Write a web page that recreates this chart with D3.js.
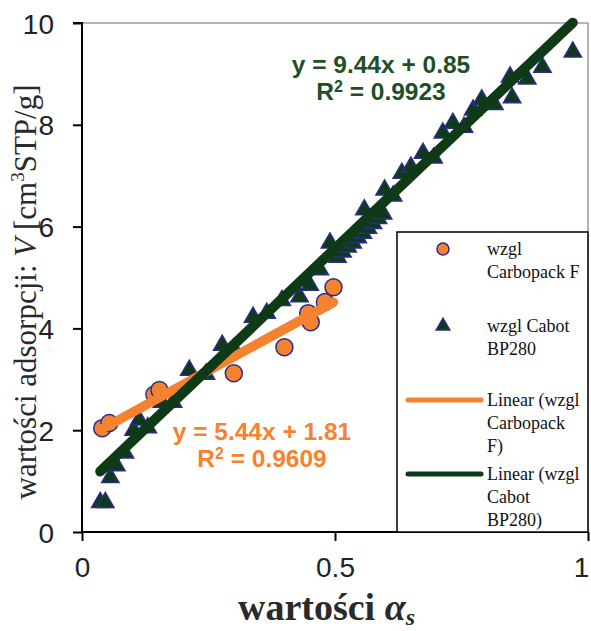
<!DOCTYPE html>
<html>
<head>
<meta charset="utf-8">
<script src="https://cdn.jsdelivr.net/npm/d3@7/dist/d3.min.js"></script>
<style>
  html, body { margin: 0; padding: 0; background: #fff; }
  svg { display: block; }
</style>
</head>
<body>
<svg id="chart" width="591" height="631"></svg>
<script>
// ---- data ----
const xTicks = [0, 0.5, 1];
const xTickLabels = ["0", "0.5", "1"];
const yTicks = [0, 2, 4, 6, 8, 10];
const yTickLabels = ["0", "2", "4", "6", "8", "10"];

// Carbopack F (orange circles)
const cfX = [0.040, 0.054, 0.143, 0.153, 0.300, 0.400, 0.447, 0.452, 0.480, 0.497];
const cfY = [2.04, 2.14, 2.70, 2.79, 3.12, 3.63, 4.30, 4.12, 4.52, 4.81];

// Cabot BP280 (triangles)
const bpX = [0.036, 0.046, 0.056, 0.068, 0.085, 0.102, 0.113, 0.130, 0.158, 0.180,
             0.212, 0.245, 0.277, 0.300, 0.338, 0.365, 0.395, 0.430, 0.450, 0.470,
             0.490, 0.505, 0.515, 0.525, 0.535, 0.545, 0.555, 0.558, 0.565, 0.575,
             0.585, 0.595, 0.598, 0.615, 0.632, 0.650, 0.674, 0.695, 0.713, 0.733,
             0.755, 0.773, 0.790, 0.815, 0.846, 0.850, 0.880, 0.910, 0.970];
const bpY = [0.58, 0.58, 1.07, 1.30, 1.55, 2.00, 2.20, 2.05, 2.55, 2.55,
             3.18, 3.10, 3.67, 3.60, 4.22, 4.30, 4.55, 4.62, 4.85, 5.15,
             5.68, 5.40, 5.50, 5.60, 5.68, 5.78, 5.87, 6.33, 5.97, 6.06,
             6.16, 6.25, 6.72, 6.60, 7.05, 7.17, 7.44, 7.35, 7.84, 8.03,
             7.95, 8.29, 8.49, 8.40, 8.94, 8.53, 8.90, 9.13, 9.43];

// trendline coefficients (from labels)
const cfSlope = 5.44, cfIntercept = 1.81, cfR2 = "0.9609";
const bpSlope = 9.44, bpIntercept = 0.85, bpR2 = "0.9923";

const legendLabels = [
  ["wzgl", "Carbopack  F"],
  ["wzgl Cabot", "BP280"],
  ["Linear (wzgl", "Carbopack", "F)"],
  ["Linear (wzgl", "Cabot", "BP280)"]
];

// ---- styles ----
const ORANGE = "#f5822f";
const GREEN = "#0e3b16";
const GREEN_TXT = "#1d5027";
const NAVY = "#2b2b8c";
const SERIF = "'Liberation Serif', 'Times New Roman', serif";
const SANS = "'Liberation Sans', Arial, sans-serif";

const svg = d3.select("#chart");
const L = 82, R = 588, T = 23, B = 532;
const x = d3.scaleLinear().domain([0, 1]).range([L, R]);
const y = d3.scaleLinear().domain([0, 10]).range([B, T]);

// plot frame (top/right grey)
svg.append("line").attr("x1", L).attr("x2", R).attr("y1", T).attr("y2", T)
  .attr("stroke", "#9a9a9a").attr("stroke-width", 1.5);
svg.append("line").attr("x1", R).attr("x2", R).attr("y1", T).attr("y2", B)
  .attr("stroke", "#9a9a9a").attr("stroke-width", 1.5);

// axes
const yAxis = d3.axisLeft(y).tickValues(yTicks).tickSize(9)
  .tickFormat((d, i) => yTickLabels[i]);
const gy = svg.append("g").attr("transform", `translate(${L},0)`).call(yAxis);
gy.select(".domain").attr("stroke", "#000").attr("stroke-width", 2).attr("d", `M-9,${T}H0V${B}`);
gy.selectAll(".tick line").attr("stroke", "#000").attr("stroke-width", 2);
gy.selectAll(".tick text").attr("font-family", SANS).attr("font-size", 28)
  .attr("fill", "#222").attr("x", -28).attr("dy", "0.36em");

const xAxis = d3.axisBottom(x).tickValues(xTicks).tickSize(9)
  .tickFormat((d, i) => xTickLabels[i]);
const gx = svg.append("g").attr("transform", `translate(0,${B})`).call(xAxis);
gx.select(".domain").attr("stroke", "#000").attr("stroke-width", 2).attr("d", `M${L},0H${R}`);
gx.selectAll(".tick line").attr("stroke", "#000").attr("stroke-width", 2);
gx.selectAll(".tick text").attr("font-family", SANS).attr("font-size", 28)
  .attr("fill", "#222").attr("y", 25).attr("dy", "0.71em")
  .attr("x", d => d === 1 ? -7 : 0);

// markers
const cfData = cfX.map((v, i) => ({ x: v, y: cfY[i] }));
const bpData = bpX.map((v, i) => ({ x: v, y: bpY[i] }));

svg.append("g").selectAll("circle").data(cfData).join("circle")
  .attr("cx", d => x(d.x)).attr("cy", d => y(d.y)).attr("r", 8.5)
  .attr("fill", ORANGE).attr("stroke", NAVY).attr("stroke-width", 1.5);

const tri = d3.symbol().type(d3.symbolTriangle).size(130);
svg.append("g").selectAll("path").data(bpData).join("path")
  .attr("d", tri)
  .attr("transform", d => `translate(${x(d.x)},${y(d.y)})`)
  .attr("fill", GREEN).attr("stroke", NAVY).attr("stroke-width", 1.5);

// trendlines
const cfExt = d3.extent(cfX);
const bpExt = d3.extent(bpX);
svg.append("line")
  .attr("x1", x(cfExt[0])).attr("y1", y(cfSlope * cfExt[0] + cfIntercept))
  .attr("x2", x(cfExt[1])).attr("y2", y(cfSlope * cfExt[1] + cfIntercept))
  .attr("stroke", ORANGE).attr("stroke-width", 9.5).attr("stroke-linecap", "round");
svg.append("line")
  .attr("x1", x(bpExt[0])).attr("y1", y(bpSlope * bpExt[0] + bpIntercept))
  .attr("x2", x(bpExt[1])).attr("y2", y(bpSlope * bpExt[1] + bpIntercept))
  .attr("stroke", GREEN).attr("stroke-width", 10).attr("stroke-linecap", "round");

// equation labels
function eqLabel(cx, by, color, slope, inter, r2) {
  const g = svg.append("g").attr("font-family", SANS).attr("font-weight", "bold")
    .attr("font-size", 24.5).attr("fill", color).attr("text-anchor", "middle");
  g.append("text").attr("x", cx).attr("y", by)
    .text(`y = ${slope.toFixed(2)}x + ${inter.toFixed(2)}`);
  const t2 = g.append("text").attr("x", cx).attr("y", by + 27);
  t2.append("tspan").text("R");
  t2.append("tspan").attr("font-size", 16).attr("dy", -8).text("2");
  t2.append("tspan").attr("dy", 8).text(` = ${r2}`);
}
eqLabel(381, 73, GREEN_TXT, bpSlope, bpIntercept, bpR2);
eqLabel(262, 440, ORANGE, cfSlope, cfIntercept, cfR2);

// legend
const lg = svg.append("g");
lg.append("rect").attr("x", 397).attr("y", 232).attr("width", 191).attr("height", B - 232)
  .attr("fill", "#fff").attr("stroke", "#000").attr("stroke-width", 1.5);
const entryY = [249, 326, 400, 474];
const lineH = 23;
legendLabels.forEach((lines, i) => {
  const t = lg.append("text").attr("font-family", SERIF).attr("font-size", 18).attr("fill", "#111");
  lines.forEach((s, j) => {
    t.append("tspan").attr("x", 487).attr("y", entryY[i] + 6 + j * lineH).text(s);
  });
});
lg.append("circle").attr("cx", 443).attr("cy", entryY[0]).attr("r", 6)
  .attr("fill", ORANGE).attr("stroke", NAVY).attr("stroke-width", 1.5);
lg.append("path").attr("d", d3.symbol().type(d3.symbolTriangle).size(80))
  .attr("transform", `translate(443,${entryY[1]})`)
  .attr("fill", GREEN).attr("stroke", NAVY).attr("stroke-width", 1.5);
lg.append("line").attr("x1", 408).attr("x2", 481).attr("y1", entryY[2]).attr("y2", entryY[2])
  .attr("stroke", ORANGE).attr("stroke-width", 5).attr("stroke-linecap", "round");
lg.append("line").attr("x1", 408).attr("x2", 481).attr("y1", entryY[3]).attr("y2", entryY[3])
  .attr("stroke", GREEN).attr("stroke-width", 5).attr("stroke-linecap", "round");

// axis titles
const yt = svg.append("text").attr("font-family", SERIF).attr("font-size", 31).attr("fill", "#2a2a2a")
  .attr("text-anchor", "middle").attr("transform", "translate(36,292) rotate(-90)");
yt.append("tspan").text("wartości adsorpcji: ");
yt.append("tspan").attr("font-style", "italic").text("V");
yt.append("tspan").text(" [cm");
yt.append("tspan").attr("font-size", 19).attr("dy", -12).text("3");
yt.append("tspan").attr("dy", 12).text("STP/g]");

const xt = svg.append("text").attr("font-family", SERIF).attr("font-size", 38).attr("font-weight", "bold")
  .attr("fill", "#2a2a2a").attr("x", 238).attr("y", 620);
xt.append("tspan").text("wartości ");
xt.append("tspan").attr("font-style", "italic").text("α");
xt.append("tspan").attr("font-style", "italic").attr("font-size", 24).attr("dy", 5).text("s");
</script>
</body>
</html>
